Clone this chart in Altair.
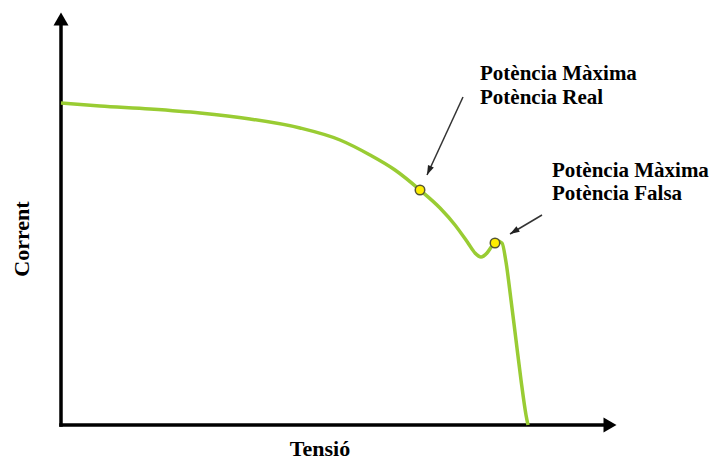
import altair as alt
import pandas as pd

# curve (Tensió, Corrent) in arbitrary units
curve_x = [0, 39, 89, 139, 189, 239, 279, 309, 334, 359, 379, 394, 407, 414, 420, 426, 431, 436, 441, 445, 450, 455, 460, 465, 467]
curve_y = [322, 319, 316, 312, 306, 297, 285, 270, 255, 235, 217, 200, 182, 172, 168, 172, 179, 184, 182, 163, 125, 85, 45, 10, 0]

# maximum power points
mpp_x = [359, 434]
mpp_y = [235, 182]

# annotation arrows: start -> tip
arrow_x = [402, 481]
arrow_y = [328, 210]
arrow_x2 = [366, 449]
arrow_y2 = [250, 191]
arrow_angle = [204, 238]

# annotation text
label_text = ["Potència Màxima", "Potència Real", "Potència Màxima", "Potència Falsa"]
label_x = [419, 419, 491, 491]
label_y = [351, 327, 254, 231]

XMAX, YMAX = 556, 413
W, H = 556, 413

xs = alt.Scale(domain=[0, XMAX], range=[0, W])
ys = alt.Scale(domain=[0, YMAX], range=[H, 0])
FONT = "Liberation Serif"

curve_df = pd.DataFrame({"x": curve_x, "y": curve_y})
mpp_df = pd.DataFrame({"x": mpp_x, "y": mpp_y})
arrow_df = pd.DataFrame({"x": arrow_x, "y": arrow_y, "x2": arrow_x2, "y2": arrow_y2, "a": arrow_angle})
label_df = pd.DataFrame({"t": label_text, "x": label_x, "y": label_y})

axes_df = pd.DataFrame({"x": [0, 0], "y": [0, 0], "x2": [0, 542], "y2": [400, 0]})
heads_df = pd.DataFrame({"x": [0, 549], "y": [406, 0], "s": ["triangle-up", "triangle-right"]})

X = lambda f="x": alt.X(f"{f}:Q", scale=xs, axis=None)
Y = lambda f="y": alt.Y(f"{f}:Q", scale=ys, axis=None)

axes = alt.Chart(axes_df).mark_rule(color="black", strokeWidth=3.5, strokeCap="square").encode(
    x=X(), y=Y(), x2="x2:Q", y2="y2:Q")
heads = alt.Chart(heads_df).mark_point(filled=True, color="black", size=225, opacity=1).encode(
    x=X(), y=Y(), shape=alt.Shape("s:N", scale=None))

line = alt.Chart(curve_df).mark_line(color="#99cc33", strokeWidth=3.5, interpolate="monotone").encode(
    x=X(), y=Y())
pts = alt.Chart(mpp_df).mark_point(filled=True, fill="#ffee00", stroke="#555533", strokeWidth=1.5,
                                    size=90, opacity=1).encode(x=X(), y=Y())

arr = alt.Chart(arrow_df).mark_rule(color="#333333", strokeWidth=1.5).encode(
    x=X(), y=Y(), x2="x2:Q", y2="y2:Q")
arr_heads = alt.Chart(arrow_df).mark_point(
    filled=True, color="#222222", size=64, opacity=1,
    shape="M0,0L-0.8,2.4L0.8,2.4Z").encode(
    x=X("x2"), y=Y("y2"), angle=alt.Angle("a:Q", scale=None))

labels = alt.Chart(label_df).mark_text(font=FONT, fontSize=21, fontWeight="bold", align="left",
                                       baseline="middle", color="black").encode(
    x=X(), y=Y(), text="t:N")

xt = alt.Chart(pd.DataFrame({"t": ["Tensió"], "x": [259], "y": [-31]})).mark_text(
    font=FONT, fontSize=22, fontWeight="bold", align="center", baseline="alphabetic",
    color="black").encode(x=X(), y=Y(), text="t:N")
yt = alt.Chart(pd.DataFrame({"t": ["Corrent"], "x": [-39], "y": [186]})).mark_text(
    font=FONT, fontSize=22, fontWeight="bold", align="center", baseline="middle", angle=270,
    color="black").encode(x=X(), y=Y(), text="t:N")

chart = alt.layer(axes, heads, line, pts, arr, arr_heads, labels, xt, yt).properties(
    width=W, height=H,
    autosize=alt.AutoSizeParams(type="none"),
    padding={"left": 53, "top": 4, "right": 92, "bottom": 36},
    background="white",
).configure_view(stroke=None)

chart.save("out.html", embed_options={"renderer": "svg", "actions": False})
